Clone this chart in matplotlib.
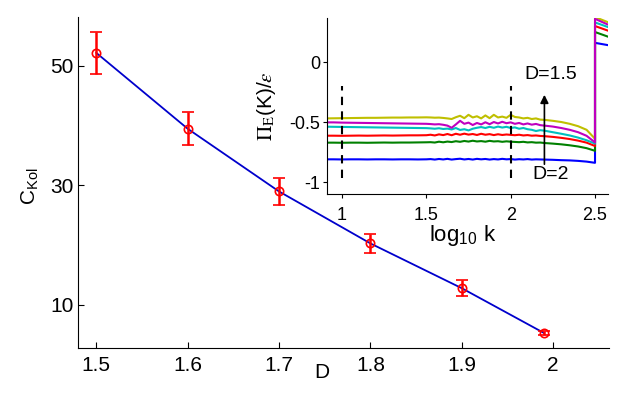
import matplotlib
matplotlib.use("Agg")
import matplotlib.pyplot as plt
import numpy as np

plt.rcParams['font.family'] = ['Liberation Sans', 'DejaVu Sans']
plt.rcParams['mathtext.fontset'] = 'custom'
plt.rcParams['mathtext.rm'] = 'Liberation Sans'
plt.rcParams['mathtext.it'] = 'Liberation Sans:italic'

# ---- main data ----
D = [1.5, 1.6, 1.7, 1.8, 1.9, 1.99]
C_kol = [52.2, 39.5, 29.0, 20.3, 12.8, 5.3]
C_err = [3.5, 2.8, 2.2, 1.6, 1.3, 0.3]
xticks_main = [1.5, 1.6, 1.7, 1.8, 1.9, 2]
xticklabels_main = ['1.5', '1.6', '1.7', '1.8', '1.9', '2']
yticks_main = [10, 30, 50]

# ---- inset data ----
logk = [0.90, 0.95, 1.00, 1.05, 1.10, 1.15, 1.20, 1.25, 1.30, 1.35, 1.40, 1.45, 1.50,
        1.525, 1.55, 1.575, 1.60, 1.625, 1.65, 1.675, 1.70, 1.725, 1.75, 1.775, 1.80,
        1.825, 1.85, 1.875, 1.90, 1.925, 1.95, 1.975, 2.00, 2.025, 2.05, 2.075, 2.10,
        2.125, 2.15, 2.175, 2.20,
        2.25, 2.30, 2.35, 2.40, 2.45, 2.50,
        2.50, 2.58]
pi_blue = [-0.811, -0.811, -0.812, -0.811, -0.811, -0.812, -0.811, -0.811, -0.812, -0.811,
           -0.811, -0.812, -0.811,
           -0.809, -0.813, -0.808, -0.812, -0.807, -0.813, -0.809, -0.806, -0.812, -0.808,
           -0.813, -0.807, -0.811, -0.808, -0.813, -0.809, -0.812, -0.807, -0.811, -0.809,
           -0.813, -0.810, -0.812, -0.809, -0.813, -0.811, -0.812, -0.813,
           -0.815, -0.818, -0.820, -0.824, -0.830, -0.840,
           0.160, 0.140]
pi_green = [-0.672, -0.672, -0.673, -0.672, -0.672, -0.673, -0.672, -0.671, -0.672, -0.671,
            -0.671, -0.670, -0.669,
            -0.668, -0.671, -0.664, -0.669, -0.663, -0.667, -0.660, -0.665, -0.658, -0.663,
            -0.656, -0.662, -0.659, -0.664, -0.657, -0.662, -0.660, -0.665, -0.661, -0.664,
            -0.666, -0.668, -0.665, -0.670, -0.668, -0.672, -0.671, -0.675,
            -0.680, -0.686, -0.694, -0.704, -0.718, -0.740,
            0.250, 0.210]
pi_red = [-0.614, -0.614, -0.615, -0.614, -0.613, -0.614, -0.613, -0.612, -0.613, -0.612,
          -0.611, -0.611, -0.610,
          -0.606, -0.612, -0.603, -0.609, -0.600, -0.610, -0.598, -0.606, -0.597, -0.605,
          -0.600, -0.608, -0.598, -0.606, -0.601, -0.609, -0.602, -0.608, -0.604, -0.607,
          -0.610, -0.606, -0.612, -0.609, -0.614, -0.612, -0.616, -0.618,
          -0.624, -0.632, -0.642, -0.655, -0.672, -0.700,
          0.300, 0.260]
pi_cyan = [-0.539, -0.540, -0.541, -0.542, -0.543, -0.544, -0.545, -0.546, -0.547, -0.548,
           -0.549, -0.550, -0.551,
           -0.553, -0.556, -0.552, -0.558, -0.555, -0.562, -0.550, -0.566, -0.560, -0.570,
           -0.556, -0.548, -0.542, -0.550, -0.540, -0.548, -0.538, -0.546, -0.540, -0.550,
           -0.545, -0.556, -0.550, -0.560, -0.565, -0.575, -0.568, -0.572,
           -0.585, -0.598, -0.612, -0.630, -0.652, -0.680,
           0.330, 0.290]
pi_magenta = [-0.503, -0.503, -0.505, -0.506, -0.507, -0.508, -0.509, -0.510, -0.511, -0.512,
              -0.513, -0.514, -0.515,
              -0.517, -0.520, -0.518, -0.523, -0.530, -0.548, -0.520, -0.490, -0.515, -0.505,
              -0.525, -0.508, -0.520, -0.502, -0.518, -0.500, -0.512, -0.498, -0.510, -0.503,
              -0.515, -0.508, -0.520, -0.512, -0.522, -0.516, -0.526, -0.530,
              -0.538, -0.550, -0.565, -0.585, -0.615, -0.670,
              0.360, 0.310]
pi_yellow = [-0.470, -0.469, -0.468, -0.467, -0.466, -0.465, -0.465, -0.464, -0.463, -0.463,
             -0.462, -0.462, -0.461,
             -0.462, -0.464, -0.463, -0.466, -0.470, -0.475, -0.460, -0.448, -0.468, -0.440,
             -0.462, -0.452, -0.470, -0.445, -0.468, -0.440, -0.462, -0.455, -0.465, -0.440,
             -0.458, -0.462, -0.470, -0.465, -0.475, -0.470, -0.480, -0.482,
             -0.490, -0.500, -0.515, -0.535, -0.565, -0.640,
             0.375, 0.330]
inset_series = [
    (pi_blue, '#0000ff'),
    (pi_green, '#008000'),
    (pi_red, '#ff0000'),
    (pi_cyan, '#00bfbf'),
    (pi_yellow, '#bfbf00'),
    (pi_magenta, '#bf00bf'),
]
xticks_in = [1, 1.5, 2, 2.5]
xticklabels_in = ['1', '1.5', '2', '2.5']
yticks_in = [-1, -0.5, 0]
yticklabels_in = ['-1', '-0.5', '0']
dashed_x = [1.0, 2.0]

fig = plt.figure(figsize=(6.26, 3.93), dpi=100)

# ---- main axes ----
ax = fig.add_axes([78/626, 1-348/393, (609-78)/626, (348-17)/393])
ax.plot(D, C_kol, color='#0000cc', lw=1.3, zorder=2)
ax.errorbar(D, C_kol, yerr=C_err, fmt='o', mfc='none', mec='#ff0000', ms=6,
            mew=1.2, ecolor='#ff0000', elinewidth=1.8, capsize=4.5, capthick=1.8,
            zorder=3)
ax.set_xlim(1.48, 2.061)
ax.set_ylim(2.8, 58.2)
ax.set_xticks(xticks_main)
ax.set_xticklabels(xticklabels_main)
ax.set_yticks(yticks_main)
ax.spines['top'].set_visible(False)
ax.spines['right'].set_visible(False)
ax.tick_params(direction='in', length=4, labelsize=15, width=0.8)
ax.tick_params(axis='x', pad=6)
ax.tick_params(axis='y', pad=3)
ax.set_xlabel('D', fontsize=15)
ax.xaxis.set_label_coords(0.46, -0.045)
ax.set_ylabel(r'C$_{\mathrm{Kol}}$', fontsize=15)
ax.yaxis.set_label_coords(-0.07, 0.49)

# ---- inset axes ----
axi = fig.add_axes([327/626, 1-194/393, (608-327)/626, (194-18)/393])
for vals, col in inset_series:
    axi.plot(logk, vals, color=col, lw=1.5)
for xv in dashed_x:
    axi.plot([xv, xv], [-0.97, -0.2], color='black', ls=(0, (4, 3)), lw=1.5)
axi.annotate('', xy=(2.2, -0.25), xytext=(2.2, -0.875),
             arrowprops=dict(arrowstyle='-|>', color='black', lw=1.2,
                             mutation_scale=12))
axi.text(2.08, -0.1, 'D=1.5', fontsize=14, va='center', ha='left')
axi.text(2.13, -0.94, 'D=2', fontsize=14, va='center', ha='left')
axi.set_xlim(0.911, 2.577)
axi.set_ylim(-1.1, 0.367)
axi.set_xticks(xticks_in)
axi.set_xticklabels(xticklabels_in)
axi.set_yticks(yticks_in)
axi.set_yticklabels(yticklabels_in)
axi.spines['top'].set_visible(False)
axi.spines['right'].set_visible(False)
axi.tick_params(direction='out', length=3, labelsize=13, width=0.8)
axi.tick_params(axis='x', pad=6)
axi.tick_params(axis='y', pad=2)
axi.patch.set_alpha(0)
axi.set_xlabel(r'log$_{10}$ k', fontsize=16)
axi.xaxis.set_label_coords(0.484, -0.165)
axi.set_ylabel(r'$\Pi_{\mathrm{E}}$(K)/$\varepsilon$', fontsize=15,
               math_fontfamily='stix')
axi.yaxis.set_label_coords(-0.174, 0.5)

fig.savefig('out.png', dpi=100)
